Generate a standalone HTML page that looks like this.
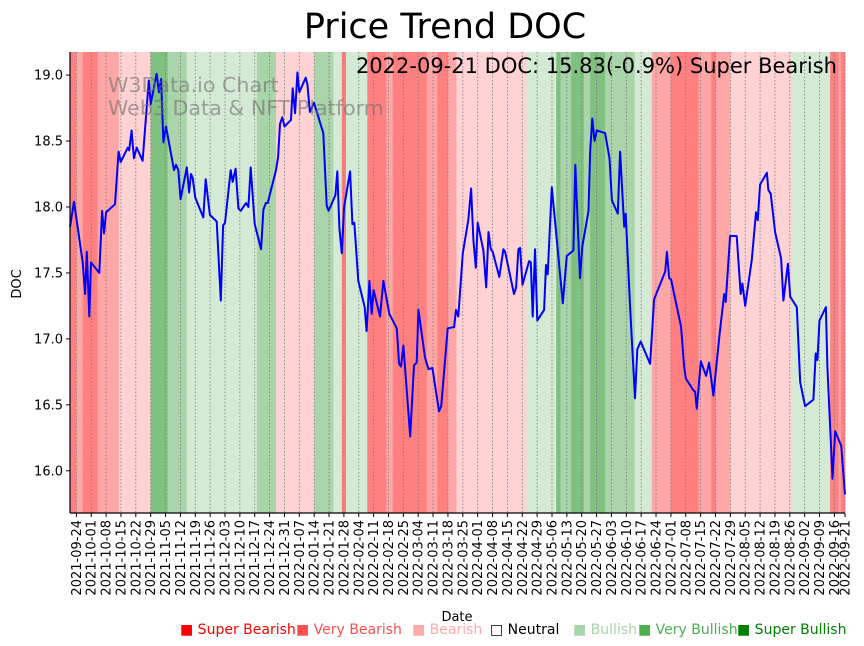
<!DOCTYPE html>
<html><head><meta charset="utf-8"><style>
body{margin:0;background:#fff;width:864px;height:646px;overflow:hidden;font-family:"DejaVu Sans","Liberation Sans",sans-serif}
svg{display:block}
</style></head><body>
<svg id="chart" width="864" height="646" xmlns="http://www.w3.org/2000/svg" font-family="DejaVu Sans, Liberation Sans, sans-serif">
<g id="bands"></g>
<g id="grid"></g>
<g id="line"></g>
<g id="axes"></g>
<text x="445" y="38" font-size="35" text-anchor="middle">Price Trend DOC</text>
<text x="837" y="73" font-size="21" text-anchor="end">2022-09-21 DOC: 15.83(-0.9%) Super Bearish</text>
<text x="108" y="92" font-size="20.6" fill="rgba(110,110,110,0.6)">W3Data.io Chart</text>
<text x="108" y="115" font-size="20.6" fill="rgba(110,110,110,0.6)">Web3 Data &amp; NFT Platform</text>
<text x="457" y="621" font-size="13" text-anchor="middle">Date</text>
<text transform="translate(21,284) rotate(-90)" font-size="13" text-anchor="middle">DOC</text>
<g font-size="14">
<text x="180" y="634" fill="#ff0000">■ Super Bearish</text>
<text x="296" y="634" fill="#ff5050">■ Very Bearish</text>
<text x="412" y="634" fill="#ffaaaa">■ Bearish</text>
<text x="490" y="634" fill="#000">□ Neutral</text>
<text x="573" y="634" fill="#aad4aa">■ Bullish</text>
<text x="638" y="634" fill="#4caf50">■ Very Bullish</text>
<text x="737" y="634" fill="#008000">■ Super Bullish</text>
</g>
</svg>
<script>
const bandStarts=[0,3,6,13,23,38,46,55,88,97,115,124,128,130,140,149,152,168,173,178,182,215,229,231,236,242,245,252,266,274,283,296,302,304,311,340,358,362,363];
const bandEnds=[3,6,13,23,38,46,55,88,97,115,124,128,130,140,149,152,168,173,178,182,215,229,231,236,242,245,252,266,274,283,296,302,304,311,340,358,362,363,365];
const bandCats=["SB","VB","SB","VB","B","SU","VU","U","VU","B","VU","U","SB","U","SB","VB","SB","VB","SB","VB","B","U","SU","VU","SU","VU","SU","VU","U","VB","SB","VB","SB","VB","B","U","SB","VB","SB"];
const days=[0,1.9,6,7.1,7.9,9.1,9.9,13.8,15.1,16,17,21.2,22.9,23.9,27.2,27.9,29,30.1,31.4,34.2,37.1,38,40.8,41.9,42.9,44,45.2,49,49.9,51,52.1,55,56.1,57,57.8,59,62.8,63.9,65.9,69.1,71,72.1,73,75.7,76.6,78,79.3,80.4,82.9,84,85.1,87,90,91.1,92.2,93.1,97,98,98.9,100,101,104.1,104.9,106,107.1,108,111,111.8,113,114.9,119.3,120.9,121.8,125,125.9,126.9,128,129.1,131.9,133,133.9,135.8,138.8,139.7,141,142.1,143,146,147.6,150.4,153.9,155,155.9,157,160.2,162,163.3,164.1,167.2,168.8,170.7,173.8,174.8,177.9,180.9,181.8,182.9,185,187.6,188.9,190,191.1,192,194.7,196,197.1,198.2,199.1,202.2,204.1,204.9,209.1,210.1,211.2,212,213.1,216.2,217,217.9,219,220.1,223.3,224.2,225,226.9,232.1,234,237.1,238,240.2,241.3,244.2,245,246,247,248.1,252,254.1,255.2,258,259.1,261,261.7,263.8,266.1,267.2,268.8,273.2,275.1,280.3,281.1,282.2,283.1,287.8,289.2,290,293.6,294.4,295.2,297.1,299.6,301,303,305.9,308.1,308.8,310.9,314,315.9,316.7,318,321.1,323.1,323.9,325,328.2,328.9,330,332.1,334.9,336,338.1,339.2,342.3,343.9,346.2,350.1,351.2,352,353,356,356.7,359.1,360.4,363.2,365];
const prices=[17.85,18.04,17.58,17.34,17.66,17.17,17.58,17.5,17.97,17.8,17.96,18.02,18.42,18.34,18.45,18.43,18.58,18.37,18.45,18.35,18.96,18.78,19.01,18.87,18.97,18.49,18.61,18.28,18.32,18.28,18.06,18.3,18.11,18.25,18.22,18.07,17.92,18.21,17.94,17.89,17.29,17.86,17.88,18.28,18.19,18.29,17.99,17.97,18.03,18,18.3,17.87,17.68,17.98,18.03,18.03,18.28,18.38,18.63,18.68,18.61,18.66,18.9,18.71,19.02,18.87,18.98,18.93,18.72,18.79,18.56,18.01,17.97,18.09,18.27,17.84,17.65,18,18.27,17.87,17.88,17.44,17.24,17.06,17.44,17.19,17.37,17.17,17.44,17.19,17.08,16.81,16.79,16.95,16.26,16.8,16.82,17.22,16.86,16.77,16.78,16.45,16.49,17.08,17.09,17.22,17.17,17.65,17.9,18.14,17.75,17.54,17.88,17.67,17.39,17.81,17.68,17.66,17.47,17.68,17.66,17.34,17.39,17.68,17.69,17.41,17.59,17.58,17.17,17.68,17.14,17.22,17.56,17.49,18.15,17.27,17.63,17.67,18.32,17.46,17.7,17.97,18.43,18.67,18.5,18.58,18.56,18.37,18.05,17.95,18.42,17.85,17.95,17.24,16.55,16.92,16.98,16.81,17.3,17.51,17.66,17.46,17.45,17.09,16.79,16.7,16.61,16.6,16.47,16.83,16.72,16.82,16.57,17.03,17.34,17.28,17.78,17.78,17.34,17.42,17.25,17.6,17.96,17.9,18.17,18.26,18.13,18.1,17.81,17.61,17.29,17.57,17.32,17.24,16.67,16.49,16.54,16.89,16.84,17.14,17.24,16.79,15.94,16.3,16.19,15.82];
const yTicks=[16.0,16.5,17.0,17.5,18.0,18.5,19.0];
const startDate="2021-09-21";
const firstTickDay=3, tickStep=7, lastDay=365;

const NS="http://www.w3.org/2000/svg";
const L=70,R=845,T=52,B=513;
const yMin=15.68,yMax=19.175;
const xs=d=>L+(R-L)*d/lastDay;
const ys=v=>B-(B-T)*(v-yMin)/(yMax-yMin);
const colors={SB:"#ff8080",VB:"#ffa6a6",B:"#ffd3d3",U:"#d5ead5",VU:"#aad4aa",SU:"#80c080"};
function mk(tag,attrs,parent){const e=document.createElementNS(NS,tag);for(const k in attrs)e.setAttribute(k,attrs[k]);parent.appendChild(e);return e;}
const gb=document.getElementById('bands');
bandStarts.forEach((s,i)=>{
  const r=mk('rect',{x:xs(s),y:T,width:xs(bandEnds[i])-xs(s)+0.3,height:B-T,fill:colors[bandCats[i]]},gb);
  
  
});
const gg=document.getElementById('grid'),ga=document.getElementById('axes');
const base=new Date(startDate+"T00:00:00Z");
const fmt=d=>{const t=new Date(base.getTime()+d*86400000);return t.toISOString().slice(0,10);};
const tickDays=[];
for(let d=firstTickDay;d<=lastDay-3;d+=tickStep)tickDays.push(d);
tickDays.push(lastDay);
tickDays.forEach(d=>{
  const x=xs(d);
  const g=mk('line',{x1:x,x2:x,y1:T,y2:B,stroke:"#777","stroke-width":0.8,"stroke-dasharray":"1.5,2"},gg);
  
  
  const tk=mk('line',{x1:x,x2:x,y1:B,y2:B+4,stroke:"#000","stroke-width":1},ga);
  
  
  const t=mk('text',{transform:`translate(${x+4.5},${B+7}) rotate(-90)`,"font-size":13,"text-anchor":"end"},ga);
  t.textContent=fmt(d);
  
  
});
yTicks.forEach(v=>{
  const y=ys(v);
  const tk=mk('line',{x1:L-4,x2:L,y1:y,y2:y,stroke:"#000","stroke-width":1},ga);
  
  
  const t=mk('text',{x:L-7,y:y+4.5,"font-size":13,"text-anchor":"end"},ga);
  t.textContent=v.toFixed(1);
  
  
});
const sp1=mk('line',{x1:L,x2:L,y1:T,y2:B,stroke:"#000","stroke-width":1.2},ga);


const sp2=mk('line',{x1:L,x2:R,y1:B,y2:B,stroke:"#000","stroke-width":1.2},ga);


const pts=days.map((d,i)=>xs(d).toFixed(1)+","+ys(prices[i]).toFixed(1)).join(" ");
const pl=mk('polyline',{points:pts,fill:"none",stroke:"#0000ff","stroke-width":2,"stroke-linejoin":"round"},document.getElementById('line'));


</script>
</body></html>
